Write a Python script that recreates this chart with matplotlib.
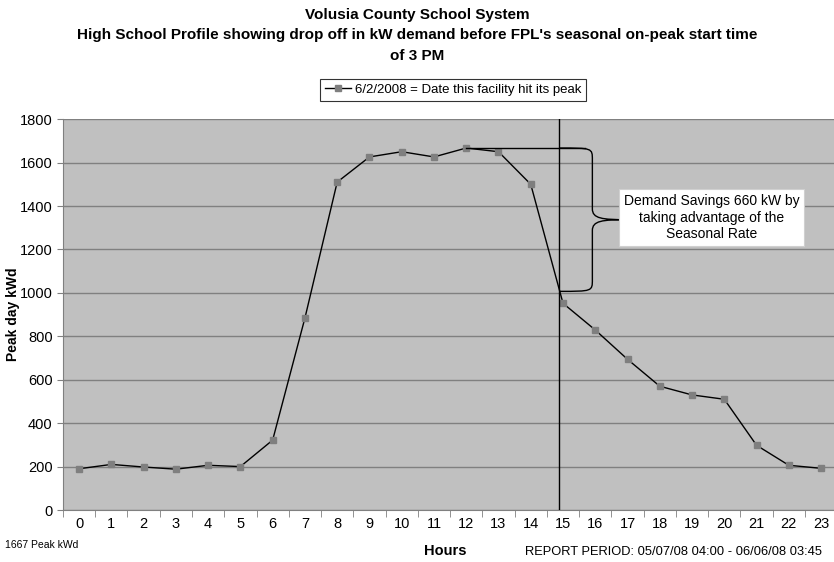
import numpy as np
import matplotlib
matplotlib.use("Agg")
import matplotlib.pyplot as plt
from matplotlib.path import Path
from matplotlib.patches import PathPatch

plt.rcParams['font.family'] = ['Liberation Sans', 'DejaVu Sans']

# data
hours = list(range(24))
hour_labels = [str(h) for h in hours]
kwd = [190, 210, 198, 188, 206, 200, 322, 884, 1510, 1626, 1650, 1626, 1667, 1650,
       1500, 952, 829, 694, 570, 530, 510, 298, 206, 192]
peak_kwd = 1667
savings_kw = 660
onpeak_x = 14.88  # position of the on-peak marker line

fig = plt.figure(figsize=(8.34, 5.62), dpi=100)
ax = fig.add_axes([0.0755, 0.0925, 0.9245, 0.6955])
ax.set_facecolor('#c0c0c0')

ax.plot(hours, kwd, color='black', lw=1.0, marker='s', ms=4,
        mfc='#7f7f7f', mec='#7f7f7f', zorder=3,
        label='6/2/2008 = Date this facility hit its peak')

ax.set_xlim(-0.5, 23.4)
ax.set_ylim(0, 1800)
ax.set_yticks(np.arange(0, 1801, 200))
ax.yaxis.grid(True, color='#808080', lw=1.0)
ax.set_axisbelow(True)

# category axis: labels at hours, tick marks between them
ax.set_xticks(hours)
ax.set_xticklabels(hour_labels, fontsize=10.5)
ax.set_xticks(np.arange(-0.5, 23.5, 1), minor=True)
ax.tick_params(axis='x', which='major', length=0, pad=5)
ax.tick_params(axis='x', which='minor', length=5, color='#808080')
ax.tick_params(axis='y', length=4, color='#808080', labelsize=10.5)

for s in ['top', 'right']:
    ax.spines[s].set_visible(False)
for s in ['left', 'bottom']:
    ax.spines[s].set_color('#808080')

# vertical on-peak line
ax.axvline(onpeak_x, color='black', lw=1.0, zorder=4)

# horizontal line from peak
ax.plot([hours[int(np.argmax(kwd))], 15.69], [peak_kwd, peak_kwd], color='black', lw=1.0, zorder=4)

# curly brace
ytop = peak_kwd
ybot = peak_kwd - savings_kw
ymid = (ytop + ybot) / 2
xb, xt = 15.91, 17.0
verts = [
    (onpeak_x, ytop), (xb, ytop), (xb, ytop), (xb, ytop - 54),
    (xb, ymid + 50),
    (xb, ymid + 5), (xb + 0.3, ymid), (xt, ymid),
    (xb + 0.3, ymid), (xb, ymid - 5), (xb, ymid - 50),
    (xb, ybot + 54),
    (xb, ybot), (xb, ybot), (onpeak_x, ybot),
]
codes = [Path.MOVETO, Path.CURVE4, Path.CURVE4, Path.CURVE4,
         Path.LINETO,
         Path.CURVE4, Path.CURVE4, Path.CURVE4,
         Path.CURVE4, Path.CURVE4, Path.CURVE4,
         Path.LINETO,
         Path.CURVE4, Path.CURVE4, Path.CURVE4]
ax.add_patch(PathPatch(Path(verts, codes), fc='none', ec='black', lw=1.0, zorder=4))

ax.text(19.6, 1347, 'Demand Savings 660 kW by\ntaking advantage of the\nSeasonal Rate',
        ha='center', va='center', fontsize=10, linespacing=1.2, zorder=5,
        bbox=dict(boxstyle='square,pad=0.35', fc='white', ec='#d0d0d0', lw=0.8))

ax.set_ylabel('Peak day kWd', fontsize=10, fontweight='bold')
ax.yaxis.set_label_coords(-0.056, 0.5)

fig.text(0.5, 0.985, 'Volusia County School System\n'
         "High School Profile showing drop off in kW demand before FPL's seasonal on-peak start time\n"
         'of 3 PM', ha='center', va='top', fontsize=11, fontweight='bold', linespacing=1.55)

leg = fig.legend(loc='center', bbox_to_anchor=(0.543, 0.84), fontsize=9.5, frameon=True,
                 fancybox=False, edgecolor='black', handlelength=2.0, borderpad=0.35,
                 handletextpad=0.3)
leg.get_frame().set_linewidth(0.8)

fig.text(0.006, 0.022, '1667 Peak kWd', fontsize=7.5, ha='left', va='bottom')
fig.text(0.534, 0.008, 'Hours', fontsize=10.5, fontweight='bold', ha='center', va='bottom')
fig.text(0.986, 0.008, 'REPORT PERIOD: 05/07/08 04:00 - 06/06/08 03:45', fontsize=9.3,
         ha='right', va='bottom')

fig.savefig('out.png', dpi=100)
